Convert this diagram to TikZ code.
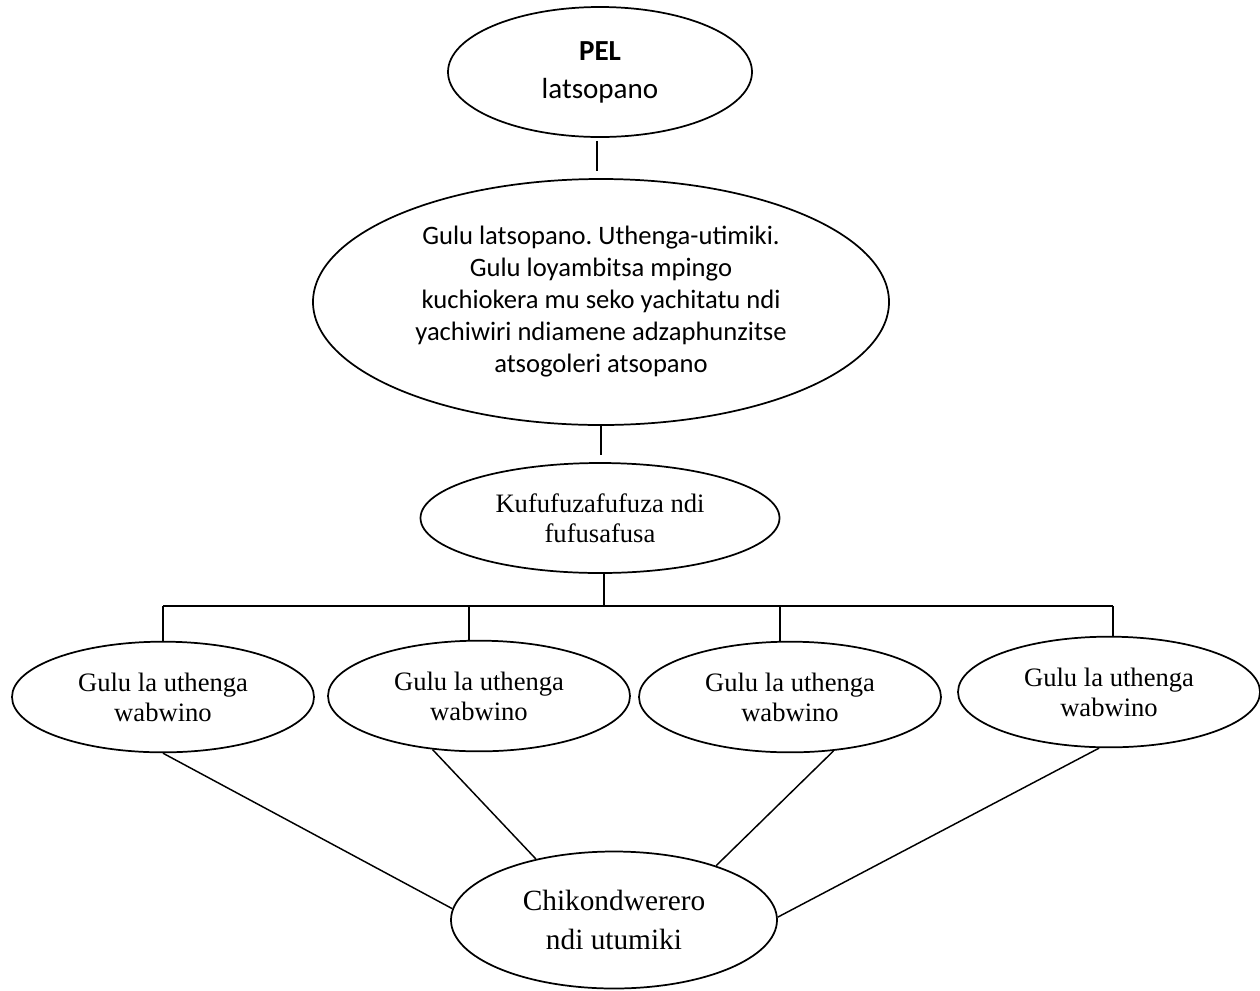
\documentclass[tikz,border=0pt]{standalone}
\usepackage{fontspec}
\setmainfont{Liberation Serif}
\newfontfamily\calibfont{Carlito}
\usetikzlibrary{shapes.geometric}
\frenchspacing
\begin{document}
\begin{tikzpicture}[x=0.75pt,y=-0.75pt,
  oval/.style={ellipse,draw,line width=1.3pt,inner sep=0pt,align=center},
  link/.style={line width=1.1pt},
  sanstext/.style={font={\calibfont\fontsize{19.95}{24}\selectfont}},
  group/.style={oval,minimum width=226.5pt,minimum height=83pt,
    font={\fontsize{19.95}{22.5}\selectfont}}]
\useasboundingbox (0,0) rectangle (1260,990);

% top of the hierarchy
\node[oval,minimum width=228pt,minimum height=97.5pt,
  font={\calibfont\fontsize{21.8}{28.5}\selectfont}] (pel) at (600,72)
  {\textbf{PEL}\\latsopano};

\node[oval,sanstext,minimum width=432pt,minimum height=184.5pt] (board) at (601,302)
  {Gulu latsopano. Uthenga-utimiki.\\
   Gulu loyambitsa mpingo\\
   kuchiokera mu seko yachitatu ndi\\
   yachiwiri ndiamene adzaphunzitse\\
   atsogoleri atsopano};

\node[oval,minimum width=269.25pt,minimum height=82.5pt,
  font={\fontsize{19.95}{22.5}\selectfont}] (search) at (600,518)
  {Kufufuzafufuza ndi\\fufusafusa};

% the four groups
\node[group] (g1) at (163,697) {Gulu la uthenga\\wabwino};
\node[group] (g2) at (479,696) {Gulu la uthenga\\wabwino};
\node[group] (g3) at (790,697) {Gulu la uthenga\\wabwino};
\node[group] (g4) at (1109,692) {Gulu la uthenga\\wabwino};

\node[oval,minimum width=244.5pt,minimum height=102.75pt,
  font={\fontsize{22}{29}\selectfont}] (fest) at (614,920)
  {Chikondwerero\\ndi utumiki};

% vertical links
\draw[link,shorten <=2.25pt,shorten >=5.25pt] ([xshift=-2.25pt]pel.south) -- ([xshift=-2.25pt]pel.south |- board.north);
\draw[link,shorten >=5.25pt] (board.south) -- (board.south |- search.north);

% distribution bar
\coordinate (b1) at (163,606);
\coordinate (b2) at (469,606);
\coordinate (b3) at (780,606);
\coordinate (b4) at (1113,606);
\draw[link] ([xshift=3pt]search.south) -- ([xshift=3pt]search.south |- b1);
\draw[link] (b1) -- (b4);
\draw[link] (b1) -- (b1 |- g1.north);
\draw[link] (b2) -- (b2 |- g2.north);
\draw[link] (b3) -- (b3 |- g3.north);
\draw[link] (b4) -- (b4 |- g4.north);

% groups to the celebration
\draw[link] (g1.south) -- (fest.176);
\draw[link] (g2.229) -- (fest.142);
\draw[link] (g3.309) -- (fest.28);
\draw[link] (g4.260) -- (fest.1);
\end{tikzpicture}
\end{document}
